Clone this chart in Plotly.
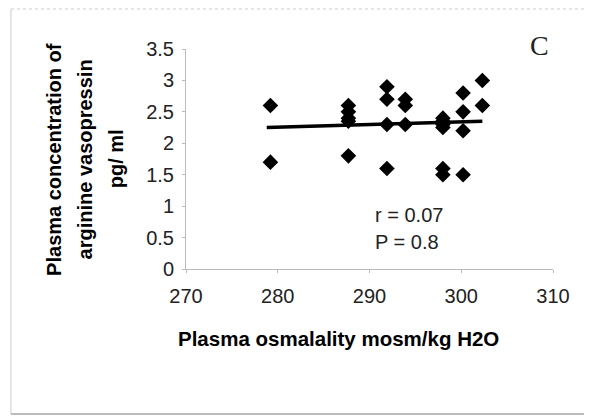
import plotly.graph_objects as go

# Data
osmolality = [279.2, 279.2,
              287.7, 287.7, 287.7, 287.7, 287.7,
              291.9, 291.9, 291.9, 291.9,
              293.9, 293.9, 293.9,
              298.0, 298.0, 298.0, 298.0, 298.0, 298.0,
              300.2, 300.2, 300.2, 300.2,
              302.3, 302.3]
avp = [2.6, 1.7,
       2.6, 2.5, 2.4, 2.35, 1.8,
       2.9, 2.7, 2.3, 1.6,
       2.7, 2.6, 2.3,
       2.4, 2.35, 2.3, 2.25, 1.6, 1.5,
       2.8, 2.5, 2.2, 1.5,
       3.0, 2.6]
trend_x = [278.8, 302.3]
trend_y = [2.25, 2.35]

x_ticks = [270, 280, 290, 300, 310]
y_ticks = [0, 0.5, 1, 1.5, 2, 2.5, 3, 3.5]

fig = go.Figure()
fig.add_trace(go.Scatter(x=osmolality, y=avp, mode="markers",
                         marker=dict(symbol="diamond", size=12, color="black"),
                         showlegend=False, cliponaxis=False))
fig.add_trace(go.Scatter(x=trend_x, y=trend_y, mode="lines",
                         line=dict(color="black", width=3.5),
                         showlegend=False))

axis_font = dict(family="Liberation Sans, Arial, sans-serif", size=20, color="#222")
fig.update_xaxes(range=[270, 310], tickvals=x_ticks, ticktext=[str(v) for v in x_ticks],
                 showgrid=False, zeroline=False, showline=True, linecolor="#bbb",
                 linewidth=1, ticks="outside", ticklen=3, tickcolor="#bbb",
                 tickfont=axis_font, ticklabelstandoff=6)
fig.update_yaxes(range=[0, 3.5], tickvals=y_ticks, ticktext=[f"{v:g}" for v in y_ticks],
                 showgrid=False, zeroline=False, showline=True, linecolor="#bbb",
                 linewidth=1, ticks="outside", ticklen=3, tickcolor="#bbb",
                 tickfont=axis_font, ticklabelstandoff=4)

bold_font = dict(family="Liberation Sans, Arial, sans-serif", size=20, color="black")
ylines = ["Plasma concentration of", "arginine vasopressin", "pg/ ml"]
ylines_x = [-0.36, -0.274, -0.19]
annotations = [
    dict(text="<b>Plasma osmalality mosm/kg H2O</b>", x=0.4155, y=-0.314, xref="paper", yref="paper",
         xanchor="center", yanchor="middle", showarrow=False,
         font=dict(family="Liberation Sans, Arial, sans-serif", size=20.5, color="black")),
    dict(text="C", x=0.962, y=1.018, xref="paper", yref="paper", xanchor="center", yanchor="middle",
         showarrow=False, font=dict(family="Liberation Serif, Times New Roman, serif", size=28, color="#222")),
    dict(text="r = 0.07", x=290.4, y=0.86, xref="x", yref="y", xanchor="left", yanchor="middle",
         showarrow=False, font=axis_font),
    dict(text="P = 0.8", x=290.4, y=0.43, xref="x", yref="y", xanchor="left", yanchor="middle",
         showarrow=False, font=axis_font),
]
for txt, xp in zip(ylines, ylines_x):
    annotations.append(dict(text=f"<b>{txt}</b>", x=xp, y=0.5, xref="paper", yref="paper",
                            textangle=-90, xanchor="center", yanchor="middle",
                            showarrow=False, font=bold_font))

fig.update_layout(
    width=592, height=419,
    margin=dict(l=178, r=47, t=41, b=158),
    paper_bgcolor="white", plot_bgcolor="white",
    annotations=annotations,
    shapes=[
        dict(type="line", xref="paper", yref="paper", x0=-0.477, x1=-0.477, y0=1.18, y1=-0.659,
             line=dict(color="#ccc", width=1)),
        dict(type="line", xref="paper", yref="paper", x0=-0.477, x1=1.093, y0=-0.659, y1=-0.659,
             line=dict(color="#bbb", width=2)),
        dict(type="line", xref="paper", yref="paper", x0=1.093, x1=1.093, y0=-0.659, y1=-0.25,
             line=dict(color="#ddd", width=1)),
        dict(type="line", xref="paper", yref="paper", x0=-0.477, x1=1.093, y0=1.182, y1=1.182,
             line=dict(color="#ccc", width=1, dash="dot")),
    ],
)

fig.write_html("out.html")
